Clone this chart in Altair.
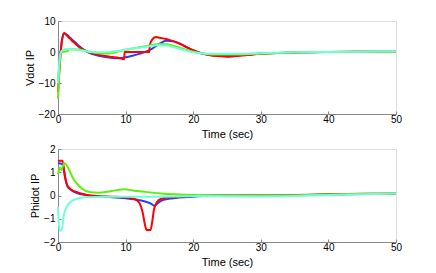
import altair as alt
import pandas as pd

# ---------- data: top panel (Vdot IP) ----------
v_red_t = [0, 0.3, 0.6, 0.9, 1.2, 1.6, 2, 2.5, 3, 4, 5, 6, 7, 8, 9, 9.8, 9.85, 11, 12, 13.5, 13.6, 14, 14.5, 15, 16, 17, 18, 19, 20, 21, 22, 23, 24, 25, 26, 28, 30, 33, 36, 40, 45, 50]
v_red_y = [-13, -3, 4, 6.1, 5.6, 4.7, 3.8, 2.8, 1.8, 0.4, -0.4, -0.9, -1.3, -1.6, -1.9, -2.3, 0, 0, 0, 0, 2.4, 4.2, 4.8, 4.6, 4.2, 3.5, 2.6, 1.6, 0.6, -0.2, -0.8, -1.2, -1.4, -1.5, -1.4, -1.0, -0.6, -0.3, -0.1, 0, 0.1, 0.1]
v_blue_t = [0, 0.3, 0.6, 0.95, 1.3, 1.8, 2.5, 3.2, 4, 5, 6, 7, 8, 9, 10, 11, 12, 13, 14, 15, 16, 17, 18, 19, 20, 21, 22, 23, 24, 26, 28, 30, 35, 40, 45, 50]
v_blue_y = [-10, -2, 4, 6.0, 5.6, 4.6, 3.2, 1.8, 0.5, -0.6, -1.2, -1.6, -1.9, -2.0, -1.7, -1.2, -0.6, 0.1, 1.2, 2.6, 3.6, 3.5, 2.8, 1.6, 0.5, -0.3, -0.8, -1.1, -1.2, -1.1, -0.8, -0.5, -0.2, 0, 0.1, 0.1]
v_green_t = [0, 0.2, 0.4, 0.8, 1.4, 1.5, 2, 3, 4, 5, 6, 7, 8, 9, 10, 11, 12, 13, 14, 15, 16, 17, 18, 19, 20, 21, 23, 26, 30, 35, 42, 50]
v_green_y = [-15, -6, -0.2, 0.1, 0.2, 0.8, 0.9, 0.8, 0.4, -0.1, -0.4, -0.5, -0.3, 0.2, 0.7, 1.1, 1.5, 1.9, 2.3, 2.6, 2.5, 2.0, 1.4, 0.7, 0.1, -0.3, -0.8, -0.8, -0.5, -0.2, 0, 0.1]
v_cyan_t = [0, 0.2, 0.5, 1, 1.5, 2, 3, 4, 5, 6, 7, 8, 9, 10, 11, 12, 13, 14, 15, 16, 17, 18, 19, 20, 21, 23, 26, 30, 35, 40, 45, 50]
v_cyan_y = [-10, -3, 0.2, 0.9, 1.0, 0.9, 0.6, 0.3, 0.0, -0.1, -0.1, 0.1, 0.4, 0.7, 1.1, 1.4, 1.7, 2.0, 2.2, 2.1, 1.6, 1.0, 0.4, -0.1, -0.4, -0.6, -0.6, -0.4, -0.1, 0, 0.1, 0.2]

# ---------- data: bottom panel (Phidot IP) ----------
p_red_t = [0, 0.65, 0.8, 1.0, 1.4, 2, 2.7, 4, 6, 8, 9.8, 11.3, 12, 12.5, 12.9, 13.1, 13.7, 13.9, 14.2, 14.6, 15.2, 16, 18, 20, 22, 25, 30, 35, 40, 45, 50]
p_red_y = [1.5, 1.5, 1.3, 0.9, 0.42, 0.25, 0.15, 0.04, -0.03, -0.05, -0.07, -0.15, -0.3, -0.7, -1.3, -1.48, -1.48, -1.2, -0.6, -0.3, -0.15, -0.1, -0.05, -0.02, 0, 0, 0, 0.02, 0.05, 0.07, 0.09]
p_blue_t = [0, 0.6, 0.8, 1.0, 1.4, 2, 2.7, 4, 6, 8, 10, 12, 13, 13.8, 14.3, 14.8, 15.5, 17, 20, 23, 30, 40, 50]
p_blue_y = [1.4, 1.35, 1.2, 0.85, 0.4, 0.22, 0.12, 0.02, -0.04, -0.07, -0.12, -0.2, -0.27, -0.36, -0.44, -0.32, -0.2, -0.12, -0.05, 0, 0, 0.04, 0.08]
p_green_t = [0, 0.3, 0.5, 0.9, 1.3, 1.8, 2.3, 3, 3.6, 4.8, 6, 7.3, 8.5, 9.8, 11, 12.8, 15.2, 18, 20, 25, 30, 40, 50]
p_green_y = [0.92, 1.2, 1.1, 1.4, 1.3, 1.0, 0.7, 0.45, 0.28, 0.14, 0.12, 0.16, 0.22, 0.27, 0.22, 0.16, 0.09, 0.04, 0.02, 0, 0, 0.04, 0.09]
p_cyan_t = [0, 0.2, 0.55, 0.85, 1.4, 2, 2.7, 4, 8, 15, 20, 22, 30, 40, 50]
p_cyan_y = [-0.5, -1.5, -1.5, -0.87, -0.44, -0.25, -0.15, -0.08, -0.05, -0.05, -0.03, -0.02, -0.04, 0.02, 0.09]

series_names = ["blue", "red", "green", "cyan"]
series_colors = ["#2b3dff", "#ff0000", "#5fee10", "#6fffd6"]

x_ticks = [0, 10, 20, 30, 40, 50]
top_ticks = [-20, -10, 0, 10]
bot_ticks = [-2, -1, 0, 1, 2]


def frame(parts):
    rows = []
    for name, ts, ys in parts:
        for t, y in zip(ts, ys):
            rows.append({"t": t, "v": y, "s": name})
    return pd.DataFrame(rows)


top_df = frame([("blue", v_blue_t, v_blue_y), ("red", v_red_t, v_red_y),
                ("green", v_green_t, v_green_y), ("cyan", v_cyan_t, v_cyan_y)])
bot_df = frame([("blue", p_blue_t, p_blue_y), ("red", p_red_t, p_red_y),
                ("green", p_green_t, p_green_y), ("cyan", p_cyan_t, p_cyan_y)])

color = alt.Color("s:N", scale=alt.Scale(domain=series_names, range=series_colors), legend=None)

FONT = "Liberation Sans"
AX_COLOR = "#8c8c8c"
TXT = "#222222"


def panel(df, ytitle, ydomain, yticks):
    xs = alt.Scale(domain=[0, 50], nice=False, zero=False)
    ys = alt.Scale(domain=ydomain, nice=False, zero=False)
    main = alt.Chart(df).mark_line(strokeWidth=2, interpolate="monotone").encode(
        x=alt.X("t:Q", scale=xs, title="Time (sec)",
                axis=alt.Axis(orient="bottom", values=x_ticks, ticks=False, grid=False, labelPadding=0,
                              titlePadding=4, titleFontWeight="normal",
                              labelFlush=False, labelOverlap=False)),
        y=alt.Y("v:Q", scale=ys, title=ytitle,
                axis=alt.Axis(orient="left", values=yticks, ticks=False, grid=False, labelPadding=3,
                              titlePadding=3, titleFontWeight="normal",
                              labelFlush=False, labelOverlap=False)),
        color=color,
        detail="s:N",
    )
    tickl = alt.Chart(df).mark_line(opacity=0).encode(
        x=alt.X("t:Q", scale=xs, axis=alt.Axis(orient="bottom", values=x_ticks, domain=False, labels=False,
                                               ticks=True, tickSize=3, offset=-3, grid=False, title=None)),
        y=alt.Y("v:Q", scale=ys, axis=alt.Axis(orient="left", values=yticks, domain=False, labels=False,
                                               ticks=True, tickSize=3, offset=-3, grid=False, title=None)),
        detail="s:N",
    )
    return alt.layer(main, tickl).resolve_axis(x="independent", y="independent").properties(
        width=338, height=93)


top = panel(top_df, "Vdot IP", [-20, 10], top_ticks)
bot = panel(bot_df, "Phidot IP", [-2, 2], bot_ticks)

chart = alt.vconcat(top, bot, spacing=3).properties(
    padding={"left": 15, "top": 7, "right": 5, "bottom": 0}
).configure_view(stroke=None).configure_axis(
    domainColor=AX_COLOR, tickColor=AX_COLOR, labelColor=TXT, titleColor=TXT,
    labelFont=FONT, titleFont=FONT, labelFontSize=10, titleFontSize=10,
    titleFontWeight="normal", domainWidth=1,
).configure(background="white")

chart.save("out.html", embed_options={"renderer": "svg", "actions": False})
